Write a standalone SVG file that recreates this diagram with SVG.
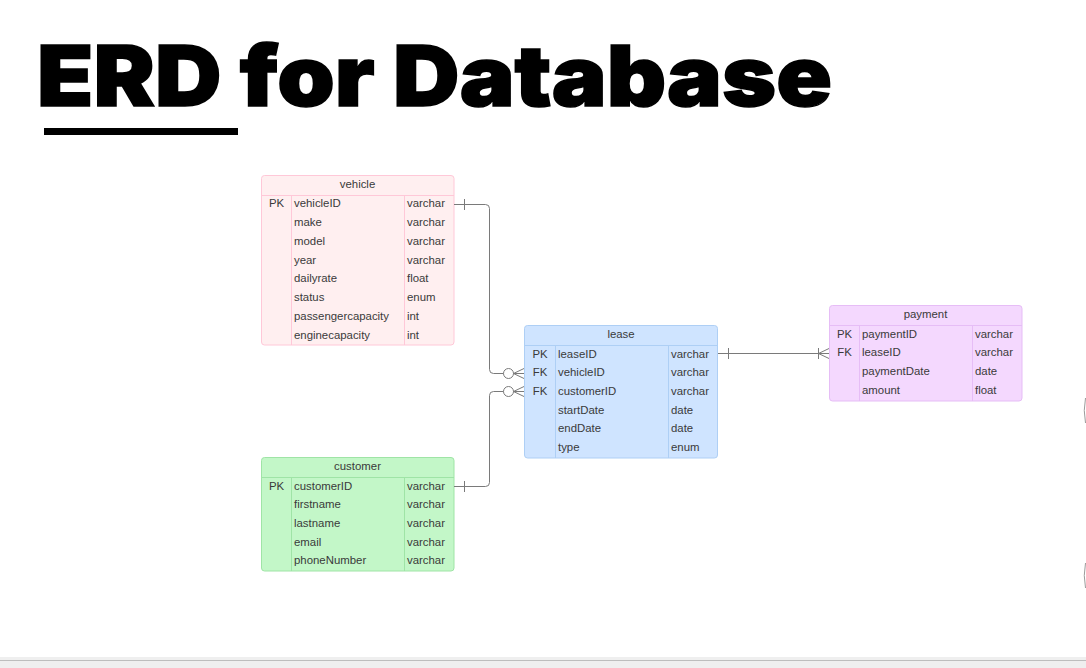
<svg xmlns="http://www.w3.org/2000/svg" width="1086" height="668" viewBox="0 0 1086 668">
<style>
.t{font-family:"Liberation Sans",Arial,sans-serif;font-size:11.4px;fill:#3a3a3a}
.h{text-anchor:middle}
.k{text-anchor:middle}
.c{fill:none;stroke:#7a7a7a;stroke-width:1}
.veh .box{fill:#ffeff0;stroke:#ffc8d8}
.veh .ln{stroke:#ffc8d8}
.cus .box{fill:#c3f7c8;stroke:#9fe4a6}
.cus .ln{stroke:#9fe4a6}
.lea .box{fill:#cfe4ff;stroke:#aecff5}
.lea .ln{stroke:#aecff5}
.pay .box{fill:#f4d8fe;stroke:#e6bdf6}
.pay .ln{stroke:#e6bdf6}
.ln{stroke-width:1;fill:none}
</style>
<rect width="1086" height="668" fill="#ffffff"/>
<g id="title">
<text x="37" y="106" font-family="Inter,Lato,'Open Sans',sans-serif" font-weight="900" font-size="84" fill="#000" stroke="#000" stroke-width="1.5" textLength="795" lengthAdjust="spacingAndGlyphs">ERD for Database</text>
<rect x="44" y="128" width="194" height="7" fill="#000"/>
</g>
<g id="vehicle" class="veh" transform="translate(261,175)">
<rect class="box" x="0.5" y="0.5" width="192.5" height="169.5" rx="3"/>
<path class="ln" d="M0.5 20.5H193 M30.5 20.5V170 M143.5 20.5V170"/>
<text class="t h" x="96.5" y="12.5">vehicle</text>
<text class="t k" x="15.5" y="32.3">PK</text>
<text class="t" x="33" y="32.3">vehicleID</text><text class="t" x="146" y="32.3">varchar</text>
<text class="t" x="33" y="51">make</text><text class="t" x="146" y="51">varchar</text>
<text class="t" x="33" y="69.8">model</text><text class="t" x="146" y="69.8">varchar</text>
<text class="t" x="33" y="88.5">year</text><text class="t" x="146" y="88.5">varchar</text>
<text class="t" x="33" y="107.3">dailyrate</text><text class="t" x="146" y="107.3">float</text>
<text class="t" x="33" y="126">status</text><text class="t" x="146" y="126">enum</text>
<text class="t" x="33" y="144.8">passengercapacity</text><text class="t" x="146" y="144.8">int</text>
<text class="t" x="33" y="163.5">enginecapacity</text><text class="t" x="146" y="163.5">int</text>
</g>
<g id="customer" class="cus" transform="translate(261,457)">
<rect class="box" x="0.5" y="0.5" width="192.5" height="113.5" rx="3"/>
<path class="ln" d="M0.5 20.5H193 M30.5 20.5V114 M143.5 20.5V114"/>
<text class="t h" x="96.5" y="12.8">customer</text>
<text class="t k" x="15.5" y="32.5">PK</text>
<text class="t" x="33" y="32.5">customerID</text><text class="t" x="146" y="32.5">varchar</text>
<text class="t" x="33" y="51.2">firstname</text><text class="t" x="146" y="51.2">varchar</text>
<text class="t" x="33" y="69.9">lastname</text><text class="t" x="146" y="69.9">varchar</text>
<text class="t" x="33" y="88.6">email</text><text class="t" x="146" y="88.6">varchar</text>
<text class="t" x="33" y="107.3">phoneNumber</text><text class="t" x="146" y="107.3">varchar</text>
</g>
<g id="lease" class="lea" transform="translate(524,325)">
<rect class="box" x="0.5" y="0.5" width="193" height="132.5" rx="3"/>
<path class="ln" d="M0.5 20.5H193.5 M31.5 20.5V133 M144.5 20.5V133"/>
<text class="t h" x="97" y="12.8">lease</text>
<text class="t k" x="16" y="32.5">PK</text>
<text class="t" x="34" y="32.5">leaseID</text><text class="t" x="147" y="32.5">varchar</text>
<text class="t k" x="16" y="51.2">FK</text>
<text class="t" x="34" y="51.2">vehicleID</text><text class="t" x="147" y="51.2">varchar</text>
<text class="t k" x="16" y="69.9">FK</text>
<text class="t" x="34" y="69.9">customerID</text><text class="t" x="147" y="69.9">varchar</text>
<text class="t" x="34" y="88.6">startDate</text><text class="t" x="147" y="88.6">date</text>
<text class="t" x="34" y="107.3">endDate</text><text class="t" x="147" y="107.3">date</text>
<text class="t" x="34" y="126">type</text><text class="t" x="147" y="126">enum</text>
</g>
<g id="payment" class="pay" transform="translate(829,305)">
<rect class="box" x="0.5" y="0.5" width="192.5" height="95.5" rx="3"/>
<path class="ln" d="M0.5 20.5H193 M30.5 20.5V96 M143.5 20.5V96"/>
<text class="t h" x="96.5" y="12.8">payment</text>
<text class="t k" x="15.5" y="32.5">PK</text>
<text class="t" x="33" y="32.5">paymentID</text><text class="t" x="146" y="32.5">varchar</text>
<text class="t k" x="15.5" y="51.2">FK</text>
<text class="t" x="33" y="51.2">leaseID</text><text class="t" x="146" y="51.2">varchar</text>
<text class="t" x="33" y="69.9">paymentDate</text><text class="t" x="146" y="69.9">date</text>
<text class="t" x="33" y="88.6">amount</text><text class="t" x="146" y="88.6">float</text>
</g>
<g id="connectors">
<path class="c" d="M454 204.5H485.5Q489.5 204.5 489.5 208.5V369.5Q489.5 373.5 493.5 373.5H503.5"/>
<path class="c" d="M464.5 199V210"/>
<circle class="c" cx="508.5" cy="373.5" r="5"/>
<path class="c" d="M513.5 373.5H524 M513.5 373.5L524 368.5 M513.5 373.5L524 378.5"/>
<path class="c" d="M454 486.5H485.5Q489.5 486.5 489.5 482.5V395.5Q489.5 391.5 493.5 391.5H503.5"/>
<path class="c" d="M464.5 481V492"/>
<circle class="c" cx="508.5" cy="391.5" r="5"/>
<path class="c" d="M513.5 391.5H524 M513.5 391.5L524 386.5 M513.5 391.5L524 396.5"/>
<path class="c" d="M718 353.5H829"/>
<path class="c" d="M728.5 348V359"/>
<path class="c" d="M818.5 348V359 M818.5 353.5L829 348.5 M818.5 353.5L829 358.5"/>
</g>
<g id="edge-marks">
<path d="M1085.5 398Q1083 410.5 1085.5 423" fill="none" stroke="#9a9a9a" stroke-width="1"/>
<path d="M1085.5 563Q1083 575.5 1085.5 588" fill="none" stroke="#9a9a9a" stroke-width="1"/>
</g>
<g id="footer">
<rect x="0" y="657" width="1086" height="11" fill="#efefef"/>
<rect x="0" y="660" width="1086" height="1" fill="#bdbdbd"/>
</g>
</svg>
